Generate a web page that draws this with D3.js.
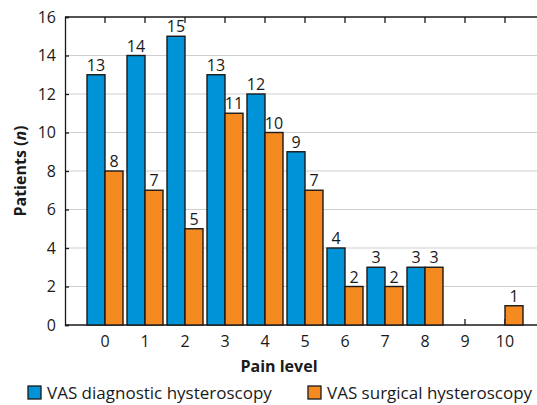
<!DOCTYPE html>
<html>
<head>
<meta charset="utf-8">
<script src="https://cdn.jsdelivr.net/npm/d3@7"></script>
<style>
  html, body { margin: 0; padding: 0; background: #fff; }
  svg { display: block; }
  text { font-family: "Open Sans", sans-serif; fill: #1a1a1a; }
</style>
</head>
<body>
<svg id="chart" width="537" height="405"></svg>
<script>
const categories = ["0","1","2","3","4","5","6","7","8","9","10"];
const seriesNames = ["VAS diagnostic hysteroscopy", "VAS surgical hysteroscopy"];
const diagnostic = [13, 14, 15, 13, 12, 9, 4, 3, 3, 0, 0];
const surgical = [8, 7, 5, 11, 10, 7, 2, 2, 3, 0, 1];
const yTicks = [0, 2, 4, 6, 8, 10, 12, 14, 16];
const colors = ["#0093d7", "#f58a21"];

(function () {
const svg = d3.select("#chart");
const mLeft = 65, mRight = 545, mTop = 17, mBottom = 325;

const x = d3.scaleBand().domain(categories).range([mLeft, mRight])
  .paddingInner(0.1).paddingOuter(0.55);
const xs = d3.scaleBand().domain([0, 1]).range([0, x.bandwidth()]);
const y = d3.scaleLinear().domain([0, 16]).range([mBottom, mTop]);

// gridlines
svg.append("g").selectAll("line").data(yTicks.filter(d => d > 0 && d < 16)).join("line")
  .attr("x1", mLeft).attr("x2", mRight)
  .attr("y1", d => y(d)).attr("y2", d => y(d))
  .attr("stroke", "#cfcfcf").attr("stroke-width", 1);

// left axis
const yAxis = d3.axisLeft(y).tickValues(yTicks).tickSize(-4).tickPadding(9);
const gy = svg.append("g").attr("transform", `translate(${mLeft},0)`).call(yAxis);
gy.select(".domain").attr("stroke", "#1a1a1a").attr("stroke-width", 1.3);
gy.selectAll(".tick line").attr("stroke", "#1a1a1a").attr("stroke-width", 1.3);
gy.selectAll("text").attr("font-size", 16).attr("font-family", "Open Sans").attr("fill", "#1a1a1a");

// top axis (inside ticks)
const xTop = d3.axisTop(x).tickSize(-6).tickFormat("");
const gt = svg.append("g").attr("transform", `translate(0,${mTop})`).call(xTop);
gt.select(".domain").attr("d", `M${mLeft},0H${mRight}`).attr("stroke", "#1a1a1a").attr("stroke-width", 1.3);
gt.selectAll(".tick line").attr("stroke", "#1a1a1a").attr("stroke-width", 1.3);

// bottom axis
const xAxis = d3.axisBottom(x).tickSize(-6).tickPadding(11);
const gx = svg.append("g").attr("transform", `translate(0,${mBottom})`).call(xAxis);
gx.select(".domain").attr("d", `M${mLeft},0H${mRight}`).attr("stroke", "#1a1a1a").attr("stroke-width", 1.3);
gx.selectAll(".tick line").attr("stroke", "#1a1a1a").attr("stroke-width", 1.3);
gx.selectAll("text").attr("font-size", 16).attr("font-family", "Open Sans").attr("fill", "#1a1a1a");

// bars
const rows = categories.map((c, i) => ({ c, vals: [diagnostic[i], surgical[i]] }));
const groups = svg.append("g").selectAll("g").data(rows).join("g")
  .attr("transform", d => `translate(${x(d.c)},0)`);
groups.selectAll("rect").data(d => d.vals.map((v, k) => ({ v, k })).filter(e => e.v > 0)).join("rect")
  .attr("x", d => xs(d.k)).attr("width", xs.bandwidth())
  .attr("y", d => y(d.v)).attr("height", d => y(0) - y(d.v))
  .attr("fill", d => colors[d.k]).attr("stroke", "#1a1a1a").attr("stroke-width", 1.4);
groups.selectAll("text").data(d => d.vals.map((v, k) => ({ v, k })).filter(e => e.v > 0)).join("text")
  .attr("x", d => xs(d.k) + xs.bandwidth() / 2).attr("y", d => y(d.v) - 4)
  .attr("text-anchor", "middle").attr("font-size", 16).text(d => d.v);

// axis titles
svg.append("text").attr("x", 279).attr("y", 372).attr("text-anchor", "middle")
  .attr("font-size", 16).attr("font-weight", "bold").text("Pain level");
const yt = svg.append("text").attr("transform", `translate(26,${(mTop + mBottom) / 2}) rotate(-90)`)
  .attr("text-anchor", "middle").attr("font-size", 16).attr("font-weight", "bold");
yt.append("tspan").text("Patients (");
yt.append("tspan").attr("font-style", "italic").text("n");
yt.append("tspan").text(")");

// legend
const legendX = [28, 308];
const lg = svg.append("g").selectAll("g").data(seriesNames).join("g")
  .attr("transform", (d, i) => `translate(${legendX[i]},386)`);
lg.append("rect").attr("width", 13).attr("height", 13)
  .attr("fill", (d, i) => colors[i]).attr("stroke", "#1a1a1a").attr("stroke-width", 1.3);
lg.append("text").attr("x", 19).attr("y", 12.5).attr("font-size", 17).text(d => d);
})();
</script>
</body>
</html>
